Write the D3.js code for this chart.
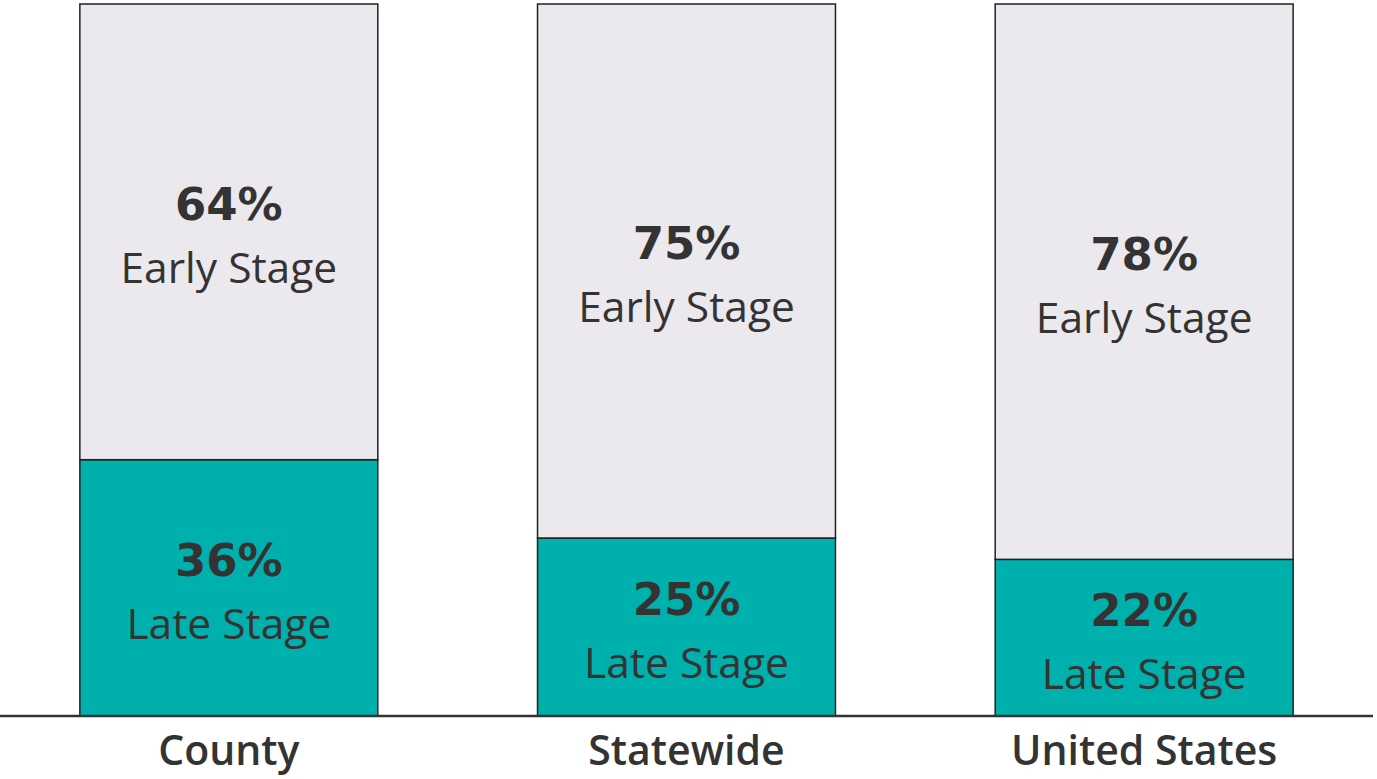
<!DOCTYPE html>
<html>
<head>
<meta charset="utf-8">
<script src="https://cdn.jsdelivr.net/npm/d3@7"></script>
<style>
  html, body { margin: 0; padding: 0; background: #fff; }
</style>
</head>
<body>
<svg id="chart" width="1377" height="779"></svg>
<script>
const categories = ["County", "Statewide", "United States"];
const lateStage = [36, 25, 22];
const earlyStage = [64, 75, 78];
const segmentNames = ["Early Stage", "Late Stage"];

const svg = d3.select("#chart");
const baseY = 716;
const topY = 4;

const x = d3.scaleBand()
  .domain(categories)
  .range([0, 1373])
  .paddingInner(0.349)
  .paddingOuter(0.1745);

const y = d3.scaleLinear()
  .domain([0, 100])
  .range([baseY, topY]);

const rows = categories.map((c, i) => ({ cat: c, late: lateStage[i], early: earlyStage[i] }));

// late stage (bottom) segments
svg.selectAll("rect.late")
  .data(rows)
  .enter()
  .append("rect")
  .attr("class", "late")
  .attr("x", d => x(d.cat))
  .attr("y", d => y(d.late))
  .attr("width", x.bandwidth())
  .attr("height", d => y(0) - y(d.late))
  .attr("fill", "#00b0ad")
  .attr("stroke", "#222")
  .attr("stroke-width", 1.5);

// early stage (top) segments
svg.selectAll("rect.early")
  .data(rows)
  .enter()
  .append("rect")
  .attr("class", "early")
  .attr("x", d => x(d.cat))
  .attr("y", d => y(d.late + d.early))
  .attr("width", x.bandwidth())
  .attr("height", d => y(d.late) - y(d.late + d.early))
  .attr("fill", "#ebe8ee")
  .attr("stroke", "#222")
  .attr("stroke-width", 1.5);

// segment labels
function addLabels(getLo, getHi, getVal, name) {
  const g = svg.selectAll(null)
    .data(rows)
    .enter()
    .append("g")
    .attr("transform", d => {
      const cy = (y(getLo(d)) + y(getHi(d))) / 2;
      return `translate(${x(d.cat) + x.bandwidth() / 2},${cy})`;
    });
  g.append("text")
    .attr("y", -12)
    .attr("text-anchor", "middle")
    .attr("font-family", "DejaVu Sans, Verdana, sans-serif")
    .attr("font-weight", "bold")
    .attr("font-size", 45)
    .attr("fill", "#333")
    .text(d => getVal(d) + "%");
  g.append("text")
    .attr("y", 51)
    .attr("text-anchor", "middle")
    .attr("font-family", "Open Sans, Noto Sans, sans-serif")
    .attr("font-size", 42.5)
    .attr("fill", "#333")
    .text(name);
}
addLabels(d => d.late, d => d.late + d.early, d => d.early, segmentNames[0]);
addLabels(d => 0, d => d.late, d => d.late, segmentNames[1]);

// baseline axis
const axis = svg.append("g")
  .attr("transform", `translate(0,${baseY})`)
  .call(d3.axisBottom(x).tickSize(0).tickPadding(20));
axis.select(".domain")
  .attr("stroke", "#333")
  .attr("stroke-width", 2.5)
  .attr("d", "M0,0H1373");
axis.selectAll("text")
  .attr("font-family", "Open Sans, Noto Sans, sans-serif")
  .attr("font-weight", 600)
  .attr("font-size", 41)
  .attr("fill", "#333")
  .attr("dy", "0.71em");
</script>
</body>
</html>
